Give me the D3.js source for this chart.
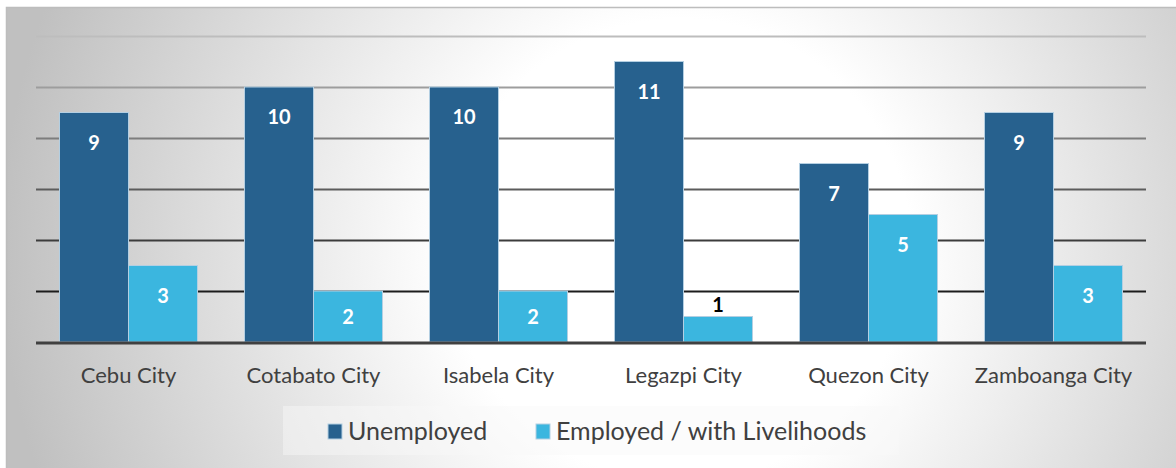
<!DOCTYPE html>
<html>
<head>
<meta charset="utf-8">
<script src="https://cdn.jsdelivr.net/npm/d3@7"></script>
<style>
  html, body { margin: 0; padding: 0; background: #ffffff; }
  svg { display: block; }
  text { font-family: Lato, "Open Sans", sans-serif; }
</style>
</head>
<body>
<svg id="chart" width="1176" height="468"></svg>
<script>
// Survey responses per city
const cities = ["Cebu City", "Cotabato City", "Isabela City", "Legazpi City", "Quezon City", "Zamboanga City"];
const seriesNames = ["Unemployed", "Employed / with Livelihoods"];
const unemployed = [9, 10, 10, 11, 7, 9];
const employed = [3, 2, 2, 1, 5, 3];
const gridTicks = [0, 2, 4, 6, 8, 10, 12];
const seriesColors = ["#27618e", "#3bb6df"];

const svg = d3.select("#chart");
const W = 1176, H = 468;

// Panel background: soft radial fade from white to grey
const defs = svg.append("defs");
const bg = defs.append("radialGradient")
  .attr("id", "panelFill")
  .attr("gradientUnits", "userSpaceOnUse")
  .attr("cx", 680).attr("cy", 250).attr("r", 680);
bg.append("stop").attr("offset", "0").attr("stop-color", "#ffffff");
bg.append("stop").attr("offset", "0.34").attr("stop-color", "#ffffff");
bg.append("stop").attr("offset", "1").attr("stop-color", "#c0c0c0");

svg.append("rect")
  .attr("x", 6.5).attr("y", 7.5)
  .attr("width", W).attr("height", H)
  .attr("fill", "url(#panelFill)")
  .attr("stroke", "#bdbdbd").attr("stroke-width", 1.5);

const plot = { left: 36, right: 1146, top: 36, bottom: 342 };

const y = d3.scaleLinear().domain([0, 12]).range([plot.bottom, plot.top]);
const x0 = d3.scaleBand().domain(cities)
  .range([plot.left, plot.right])
  .paddingInner(0.254).paddingOuter(0.127);
const x1 = d3.scaleBand().domain(seriesNames).range([0, x0.bandwidth()]);
const color = d3.scaleOrdinal().domain(seriesNames).range(seriesColors);

// Gridlines darken toward the baseline
const gridColor = d3.scaleLinear().domain([12, 2]).range(["#bdbdbd", "#1c1c1c"]);
const grid = svg.append("g");
gridTicks.filter(t => t > 0).forEach(t => {
  grid.append("line")
    .attr("x1", plot.left).attr("x2", plot.right)
    .attr("y1", Math.round(y(t)) + 0.5).attr("y2", Math.round(y(t)) + 0.5)
    .attr("stroke", gridColor(t)).attr("stroke-width", 2);
});

const rows = cities.map((c, i) => ({ city: c, values: [unemployed[i], employed[i]] }));

const groups = svg.append("g").selectAll("g")
  .data(rows).join("g")
  .attr("transform", d => `translate(${x0(d.city)},0)`);

const bars = groups.selectAll("g.bar")
  .data(d => d.values.map((v, k) => ({ key: seriesNames[k], value: v })))
  .join("g").attr("class", "bar");

bars.append("rect")
  .attr("x", d => x1(d.key))
  .attr("y", d => y(d.value))
  .attr("width", x1.bandwidth())
  .attr("height", d => y(0) - y(d.value))
  .attr("fill", d => color(d.key))
  .attr("stroke", "#b4cfe2").attr("stroke-width", 1);

// Value labels: inside the top of the bar, or just above a short bar
bars.append("text")
  .attr("x", d => x1(d.key) + x1.bandwidth() / 2)
  .attr("y", d => {
    const h = y(0) - y(d.value);
    if (h < 40) return y(d.value) - 5;
    return y(d.value) + Math.min(30, h / 2) + 7;
  })
  .attr("text-anchor", "middle")
  .attr("font-size", 20).attr("font-weight", 700)
  .attr("fill", d => (y(0) - y(d.value) < 40) ? "#000000" : "#ffffff")
  .text(d => d.value);

// Baseline
svg.append("line")
  .attr("x1", plot.left).attr("x2", plot.right)
  .attr("y1", y(0) + 1).attr("y2", y(0) + 1)
  .attr("stroke", "#404040").attr("stroke-width", 3);

// Category axis
const xAxis = svg.append("g")
  .attr("transform", `translate(0,${plot.bottom})`)
  .call(d3.axisBottom(x0).tickSize(0).tickPadding(0));
xAxis.select(".domain").remove();
xAxis.selectAll("text")
  .attr("y", 41)
  .attr("dy", 0)
  .attr("font-size", 22)
  .attr("font-family", "Lato, 'Open Sans', sans-serif")
  .attr("fill", "#404040");

// Legend
svg.append("rect")
  .attr("x", 283).attr("y", 406).attr("width", 616).attr("height", 49)
  .attr("fill", "#f8f8f8").attr("opacity", 0.45);

const legend = svg.append("g");
const legendX = [328, 536];
seriesNames.forEach((name, k) => {
  const g = legend.append("g").attr("transform", `translate(${legendX[k]},0)`);
  g.append("rect")
    .attr("x", 0).attr("y", 424).attr("width", 14).attr("height", 15)
    .attr("fill", seriesColors[k]).attr("stroke", "#b4cfe2").attr("stroke-width", 1);
  g.append("text")
    .attr("x", 20).attr("y", 440)
    .attr("font-size", 25)
    .attr("fill", "#404040")
    .text(name);
});
</script>
</body>
</html>
